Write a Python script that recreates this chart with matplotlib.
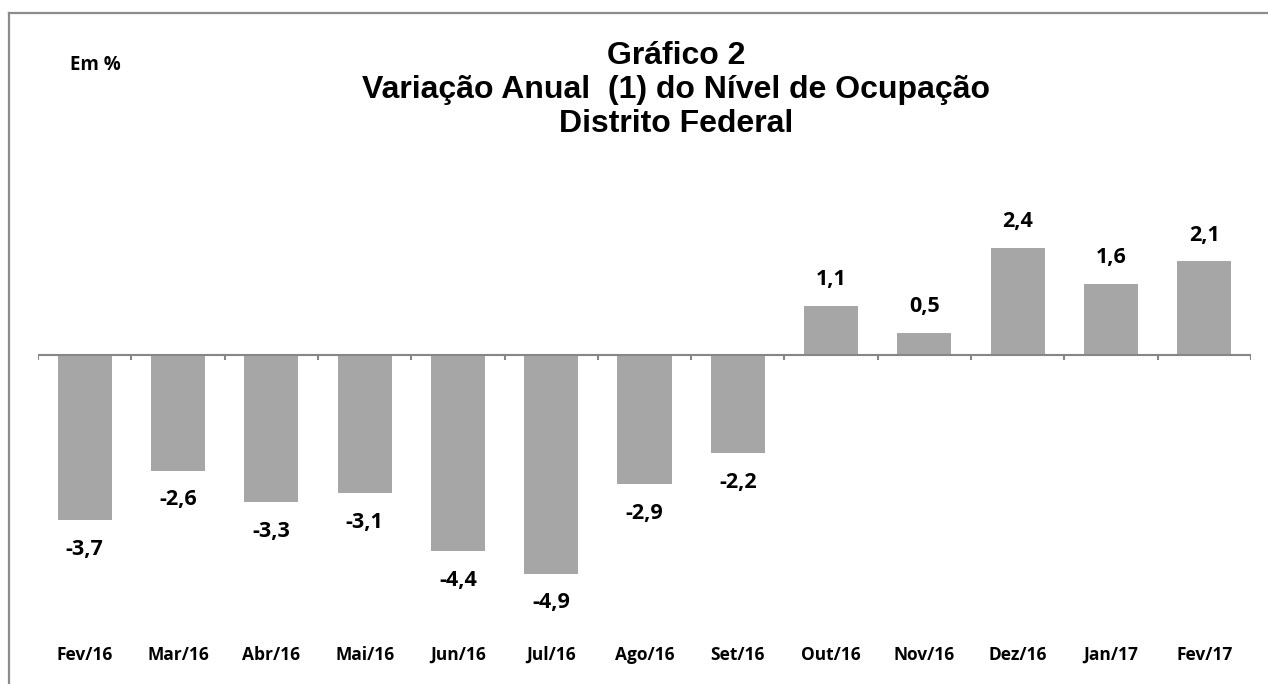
import numpy as np
import matplotlib.pyplot as plt
from matplotlib.lines import Line2D

meses = ["Fev/16", "Mar/16", "Abr/16", "Mai/16", "Jun/16", "Jul/16", "Ago/16",
         "Set/16", "Out/16", "Nov/16", "Dez/16", "Jan/17", "Fev/17"]
variacao = [-3.7, -2.6, -3.3, -3.1, -4.4, -4.9, -2.9, -2.2, 1.1, 0.5, 2.4, 1.6, 2.1]
titulo = ["Gráfico 2", "Variação Anual  (1) do Nível de Ocupação", "Distrito Federal"]

W, H = 1268, 684
fig = plt.figure(figsize=(W / 100, H / 100), dpi=100)

# eixo: x de 38 a 1251 px, zero em y=355 px
y0, y1 = -5.5, 3.5
ppu = 44.6
top_px = 355 - y1 * ppu
bot_px = 355 - y0 * ppu
ax = fig.add_axes([38 / W, 1 - bot_px / H, (1251 - 38) / W, (bot_px - top_px) / H])

x = np.arange(len(meses))
ax.bar(x, variacao, width=0.58, color="#A6A6A6", zorder=2)
ax.set_xlim(-0.5, len(meses) - 0.5)
ax.set_ylim(y0, y1)
ax.axis("off")

# linha do zero e marcas
ax.axhline(0, color="#868686", lw=1.5, zorder=3)
for b in np.arange(len(meses) + 1) - 0.5:
    ax.plot([b, b], [0, -5 / ppu], color="#868686", lw=1.5, zorder=3,
            solid_capstyle="butt")

lab_font = dict(family=["Open Sans", "DejaVu Sans"], fontweight="bold")
for xi, v in zip(x, variacao):
    off = 26 if v > 0 else -29
    ax.annotate(f"{v:.1f}".replace(".", ","), (xi, v), xytext=(0, off * 0.72),
                textcoords="offset points", ha="center", va="center",
                fontsize=15.5, **lab_font)

for xi, m in zip(x, meses):
    ax.text(xi, -(655 - bot_px) / (bot_px - top_px), m,
            transform=ax.get_xaxis_transform(), ha="center", va="center",
            fontsize=12.5, **lab_font)

tit_font = dict(family="Liberation Sans", fontweight="bold", fontsize=23)
for yy, t in zip([56, 90, 124], titulo):
    fig.text(676 / W, 1 - yy / H, t, ha="center", va="center", **tit_font)

fig.text(70 / W, 1 - 65 / H, "Em %", ha="left", va="center", fontsize=13.5, **lab_font)

# moldura (apenas esquerda e topo visiveis)
fig.add_artist(Line2D([9 / W, 9 / W], [0, 1 - 12.5 / H], color="#8C8C8C", lw=1.6))
fig.add_artist(Line2D([9 / W, 1], [1 - 12.5 / H, 1 - 12.5 / H], color="#8C8C8C", lw=1.6))

fig.savefig("out.png", dpi=100)
